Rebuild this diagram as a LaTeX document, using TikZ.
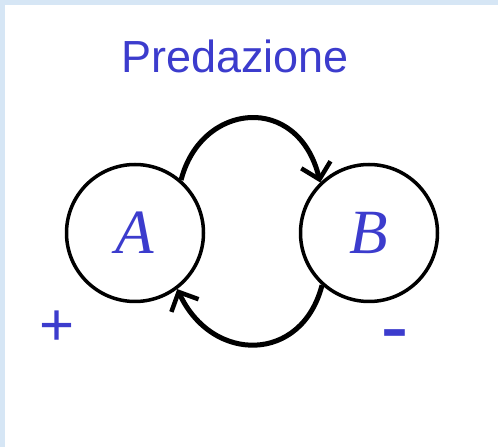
\documentclass[tikz,border=0pt]{standalone}
\usepackage{fontspec}
\setmainfont{Liberation Sans}
\newfontfamily\speciesfont{Liberation Serif}
\usepackage{xcolor}
\usepackage{tikz}
\usetikzlibrary{arrows.meta, positioning}
\definecolor{predblue}{RGB}{60,60,205}
\definecolor{slideblue}{RGB}{214,230,245}

\begin{document}
\begin{tikzpicture}[x=1pt, y=1pt,
    species/.style={circle, draw, line width=3.5pt, minimum size=137pt, inner sep=0pt,
        text=predblue, font=\speciesfont\itshape\fontsize{63}{70}\selectfont},
    link/.style={line width=5pt, -{Straight Barb[length=15pt, width=30pt, line width=4.5pt]}},
    sign/.style={text=predblue, font=\fontsize{60}{66}\selectfont}]
    % Sfondo
    \fill[slideblue] (0,0) rectangle (498,447);
    \fill[white] (5,0) rectangle (498,442);
    \useasboundingbox (0,0) rectangle (498,447);

    % Titolo
    \node[text=predblue, font=\fontsize{45}{54}\selectfont, anchor=base] (titolo) at (235,374) {Predazione};

    % Specie
    \node[species] (A) at (135,214) {A};
    \node[species] (B) at (369,214) {B};

    % Frecce tra le specie
    \draw[link] (A.49) .. controls +(20,78) and +(-22,90) .. (B.134);
    \draw[link] (B.228) .. controls +(-20,-78) and +(35,-75) .. (A.307);

    % Segni
    \node[sign] (piu) at (57,119) {+};
    \node[sign, font=\bfseries\fontsize{56}{66}\selectfont, xscale=1.45] (meno) at (395,108) {-};
\end{tikzpicture}
\end{document}
